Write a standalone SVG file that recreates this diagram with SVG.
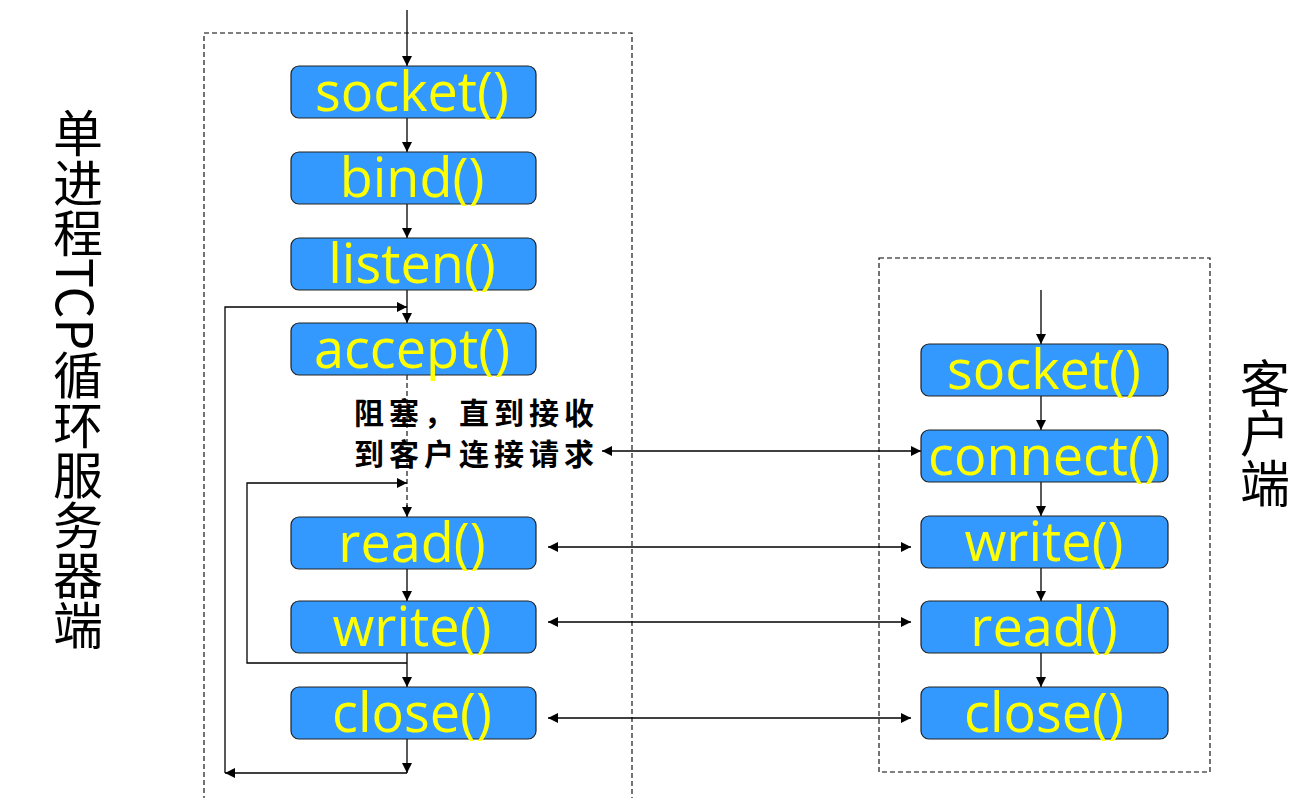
<svg xmlns="http://www.w3.org/2000/svg" width="1308" height="798" viewBox="0 0 1308 798">
<style>
.b{fill:#3399ff;stroke:#222;stroke-width:1.2}
.t{fill:#ffff00;font-family:"Open Sans","DejaVu Sans",sans-serif;font-size:54px;text-anchor:middle}
.l{stroke:#000;stroke-width:1.3;fill:none}
.d{stroke:#000;stroke-width:1.1;fill:none;stroke-dasharray:5,3}
.v{font-family:"Noto Sans CJK SC",sans-serif;font-size:50px;fill:#000}
</style>
<defs>
<marker id="a" viewBox="0 0 10 10" refX="10" refY="5" markerWidth="8" markerHeight="8" orient="auto-start-reverse"><path d="M0,0L10,5L0,10z"/></marker>
</defs>
<rect class="d" x="204" y="33" width="428" height="780"/>
<rect class="d" x="879" y="258" width="331" height="514"/>
<g id="connectors">
<line class="l" x1="407" y1="10" x2="407" y2="66" marker-end="url(#a)"/>
<line class="l" x1="407" y1="118" x2="407" y2="152" marker-end="url(#a)"/>
<line class="l" x1="407" y1="204" x2="407" y2="238" marker-end="url(#a)"/>
<line class="l" x1="407" y1="290" x2="407" y2="323" marker-end="url(#a)"/>
<line class="d" x1="407" y1="375" x2="407" y2="512"/>
<line class="l" x1="407" y1="505" x2="407" y2="517" marker-end="url(#a)"/>
<line class="l" x1="407" y1="569" x2="407" y2="601" marker-end="url(#a)"/>
<line class="l" x1="407" y1="653" x2="407" y2="687" marker-end="url(#a)"/>
<line class="l" x1="407" y1="739" x2="407" y2="773" marker-end="url(#a)"/>
<polyline class="l" points="407,773 225,773" marker-end="url(#a)"/>
<polyline class="l" points="225,773 225,307 407,307" marker-end="url(#a)"/>
<polyline class="l" points="407,663 247,663 247,483 407,483" marker-end="url(#a)"/>
<line class="l" x1="1041" y1="290" x2="1041" y2="344" marker-end="url(#a)"/>
<line class="l" x1="1041" y1="396" x2="1041" y2="430" marker-end="url(#a)"/>
<line class="l" x1="1041" y1="482" x2="1041" y2="516" marker-end="url(#a)"/>
<line class="l" x1="1041" y1="568" x2="1041" y2="601" marker-end="url(#a)"/>
<line class="l" x1="1041" y1="653" x2="1041" y2="687" marker-end="url(#a)"/>
<line class="l" x1="602" y1="451" x2="921" y2="451" marker-start="url(#a)" marker-end="url(#a)"/>
<line class="l" x1="548" y1="547" x2="911" y2="547" marker-start="url(#a)" marker-end="url(#a)"/>
<line class="l" x1="548" y1="622" x2="911" y2="622" marker-start="url(#a)" marker-end="url(#a)"/>
<line class="l" x1="548" y1="718" x2="911" y2="718" marker-start="url(#a)" marker-end="url(#a)"/>
</g>
<g id="s_socket"><rect class="b" x="291" y="66" width="245" height="52" rx="8"/><text class="t" x="412" y="111">socket()</text></g>
<g id="s_bind"><rect class="b" x="291" y="152" width="245" height="52" rx="8"/><text class="t" x="412" y="197">bind()</text></g>
<g id="s_listen"><rect class="b" x="291" y="238" width="245" height="52" rx="8"/><text class="t" x="412" y="283">listen()</text></g>
<g id="s_accept"><rect class="b" x="291" y="323" width="245" height="52" rx="8"/><text class="t" x="412" y="368">accept()</text></g>
<g id="s_read"><rect class="b" x="291" y="517" width="245" height="52" rx="8"/><text class="t" x="412" y="562">read()</text></g>
<g id="s_write"><rect class="b" x="291" y="601" width="245" height="52" rx="8"/><text class="t" x="412" y="646">write()</text></g>
<g id="s_close"><rect class="b" x="291" y="687" width="245" height="52" rx="8"/><text class="t" x="412" y="732">close()</text></g>
<g id="c_socket"><rect class="b" x="921" y="344" width="247" height="52" rx="8"/><text class="t" x="1044" y="389">socket()</text></g>
<g id="c_connect"><rect class="b" x="921" y="430" width="247" height="52" rx="8"/><text class="t" x="1044" y="475">connect()</text></g>
<g id="c_write"><rect class="b" x="921" y="516" width="247" height="52" rx="8"/><text class="t" x="1044" y="561">write()</text></g>
<g id="c_read"><rect class="b" x="921" y="601" width="247" height="52" rx="8"/><text class="t" x="1044" y="646">read()</text></g>
<g id="c_close"><rect class="b" x="921" y="687" width="247" height="52" rx="8"/><text class="t" x="1044" y="732">close()</text></g>
<g id="note" font-family="'Noto Sans CJK SC',sans-serif" font-size="30" font-weight="bold" fill="#000">
<text x="354" y="424" textLength="240">阻塞，直到接收</text>
<text x="354" y="465" textLength="240">到客户连接请求</text>
</g>
<g id="server_label"><text class="v" x="78" y="108" style="writing-mode:vertical-rl;text-orientation:mixed">单进程TCP循环服务器端</text></g>
<g id="client_label"><text class="v" x="1265" y="358" style="writing-mode:vertical-rl;text-orientation:upright">客户端</text></g>
</svg>
